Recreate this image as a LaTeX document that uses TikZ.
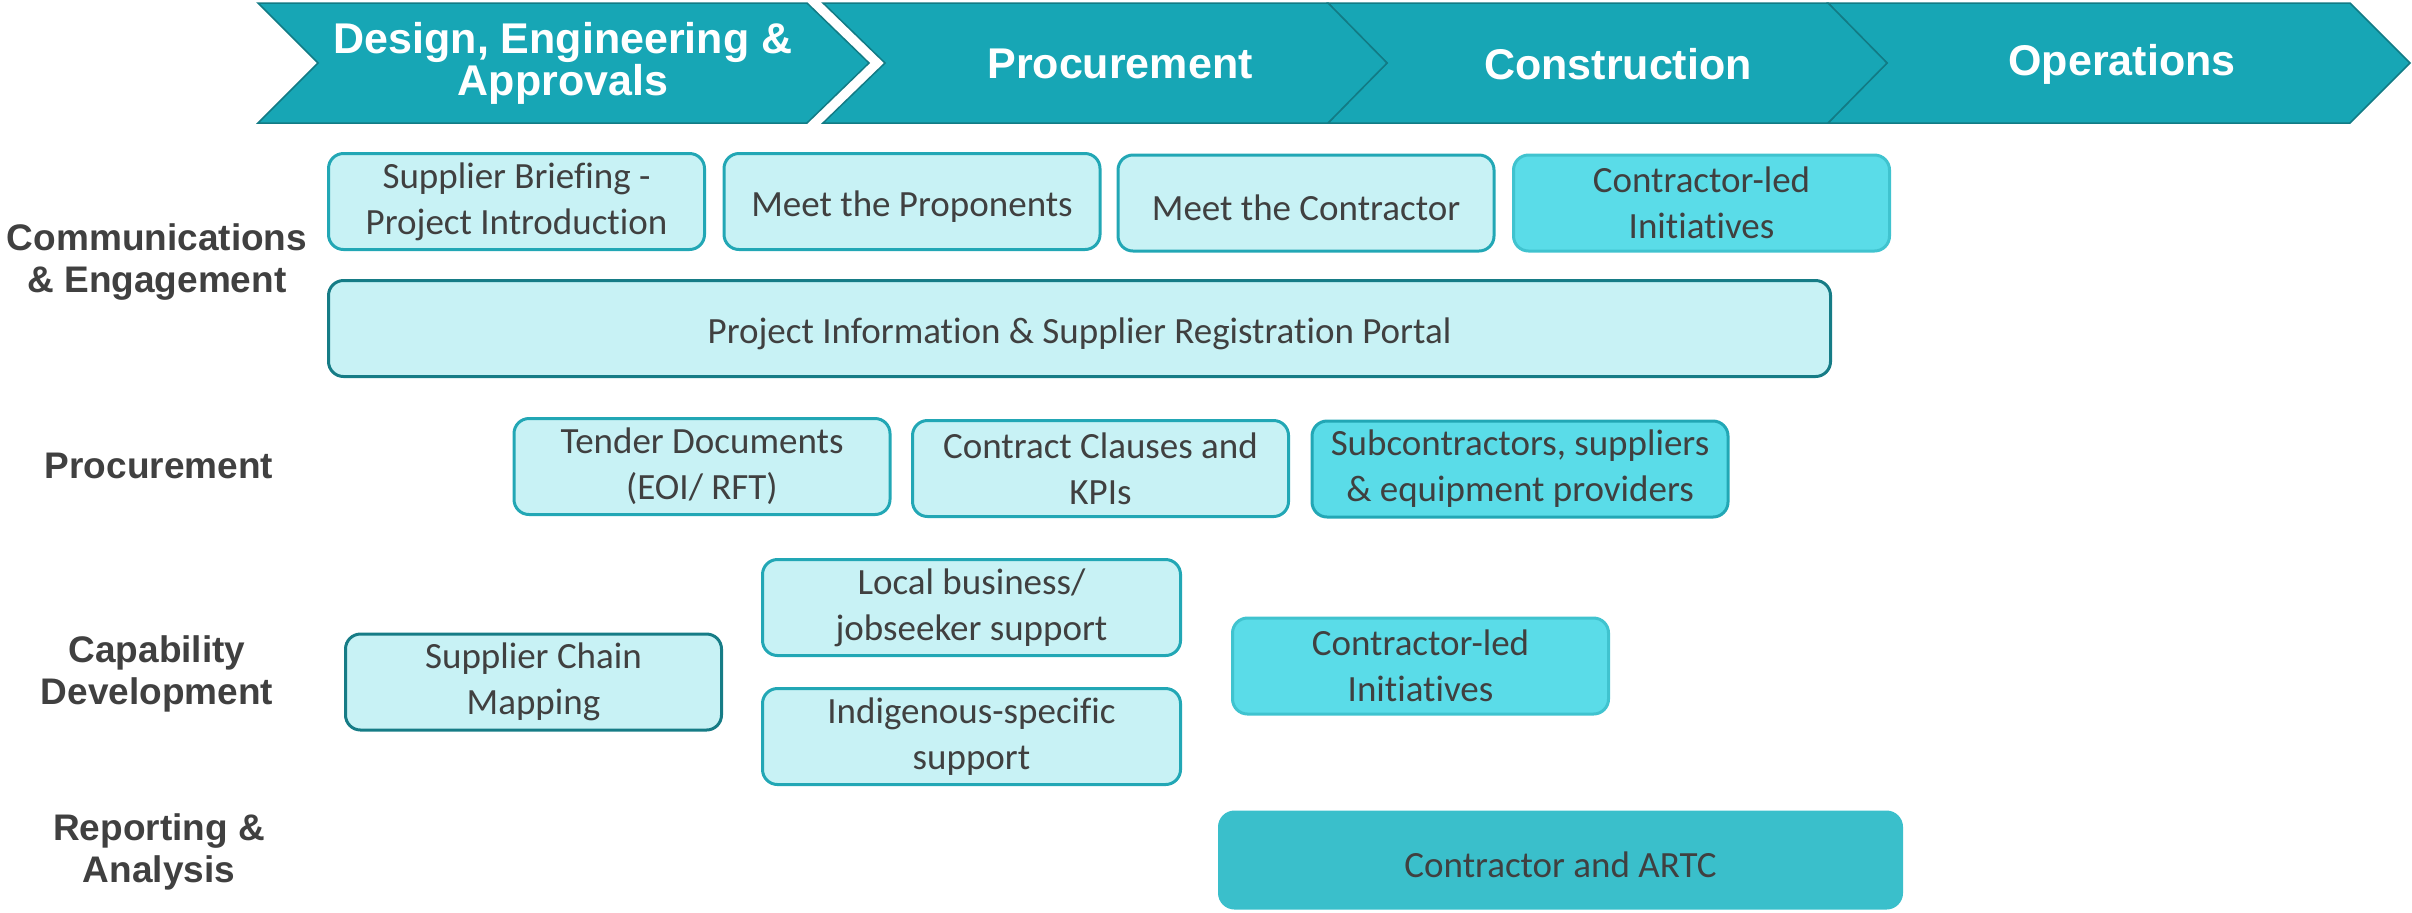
\documentclass[tikz,border=0pt]{standalone}
\usepackage{fontspec}
\setmainfont{Carlito}[Ligatures=NoCommon]
\newfontfamily\headfont{Liberation Sans}

\definecolor{chevfill}{HTML}{17A6B5}
\definecolor{chevline}{HTML}{127B85}
\definecolor{boxfill}{HTML}{C8F2F5}
\definecolor{boxline}{HTML}{22A7B5}
\definecolor{boxdark}{HTML}{167C86}
\definecolor{brightfill}{HTML}{5ADCE8}
\definecolor{brightline}{HTML}{40C3CF}
\definecolor{artcfill}{HTML}{3ABFCB}
\definecolor{labgrey}{HTML}{404040}

\tikzset{
  phase/.style={fill=chevfill, draw=chevline, line width=0.75pt, line join=miter},
  phasetext/.style={text=white, inner sep=0pt, align=center,
    font=\headfont\bfseries\fontsize{21.5}{21}\selectfont},
  rowlabel/.style={text=labgrey, inner sep=0pt, align=center,
    font=\headfont\bfseries\fontsize{18.5}{21}\selectfont},
  box/.style={draw=boxline, fill=boxfill, line width=1.5pt, rounded corners=7.5pt,
    minimum width=188pt, minimum height=48pt, inner sep=0pt, align=center,
    text=labgrey, font=\fontsize{18.5}{23}\selectfont,
    execute at begin node={\rule{0pt}{18pt}}},
  darkbox/.style={box, draw=boxdark},
  brightbox/.style={box, fill=brightfill, draw=brightline},
}

\begin{document}
\begin{tikzpicture}[x=0.5pt, y=-0.5pt]
  \useasboundingbox (0,0) rectangle (2412,912);
  % phase chevrons
  \draw [phase] (1828,3) -- (2350,3) -- (2410,63) -- (2350,123) -- (1828,123) -- (1887,63) -- cycle;
  \draw [phase] (1328,3) -- (1828,3) -- (1887,63) -- (1828,123) -- (1328,123) -- (1387,63) -- cycle;
  \draw [phase] (823,3) -- (1328,3) -- (1387,63) -- (1328,123) -- (823,123) -- (885,63) -- cycle;
  \draw [phase] (258,3) -- (807,3) -- (869,63) -- (807,123) -- (258,123) -- (318,63) -- cycle;
  \node [phasetext] (design) at (563,63) {Design, Engineering \&\\Approvals};
  \node [phasetext] (procph) at (1120,64) {Procurement};
  \node [phasetext] (constr) at (1618,64) {Construction};
  \node [phasetext] (ops) at (2122,64) {Operations};
  % row labels
  \node [rowlabel] (lcomm) at (157,262) {Communications\\\& Engagement};
  \node [rowlabel] (lproc) at (159,466) {Procurement};
  \node [rowlabel] (lcap) at (157,674) {Capability\\Development};
  \node [rowlabel] (lrep) at (159,852) {Reporting \&\\Analysis};
  % communications & engagement
  \node [box] (brief) at (516.5,201.5) {Supplier Briefing -\\Project Introduction};
  \node [box] (prop) at (912,201.5) {Meet the Proponents};
  \node [box] (meetc) at (1306,203) {Meet the Contractor};
  \node [brightbox] (cled1) at (1701.5,203) {Contractor-led\\Initiatives};
  \node [darkbox, minimum width=751pt] (portal) at (1079.5,328.5) {Project Information \& Supplier Registration Portal};
  % procurement
  \node [box] (tender) at (702,466.5) {Tender Documents\\(EOI/ RFT)};
  \node [box] (clauses) at (1100.5,468.5) {Contract Clauses and\\KPIs};
  \node [brightbox, draw=boxline, minimum width=208pt] (subs) at (1520,469) {Subcontractors, suppliers\\\& equipment providers};
  % capability development
  \node [darkbox] (chain) at (533.5,682) {Supplier Chain\\Mapping};
  \node [box, minimum width=209pt] (local) at (971.5,607.5) {Local business/\\jobseeker support};
  \node [box, minimum width=209pt] (indig) at (971.5,736.5) {Indigenous-specific\\support};
  \node [brightbox] (cled2) at (1420.5,666) {Contractor-led\\Initiatives};
  % reporting & analysis
  \node [box, fill=artcfill, draw=artcfill, minimum width=341pt] (artc) at (1560.5,860) {Contractor and ARTC};
\end{tikzpicture}
\end{document}
